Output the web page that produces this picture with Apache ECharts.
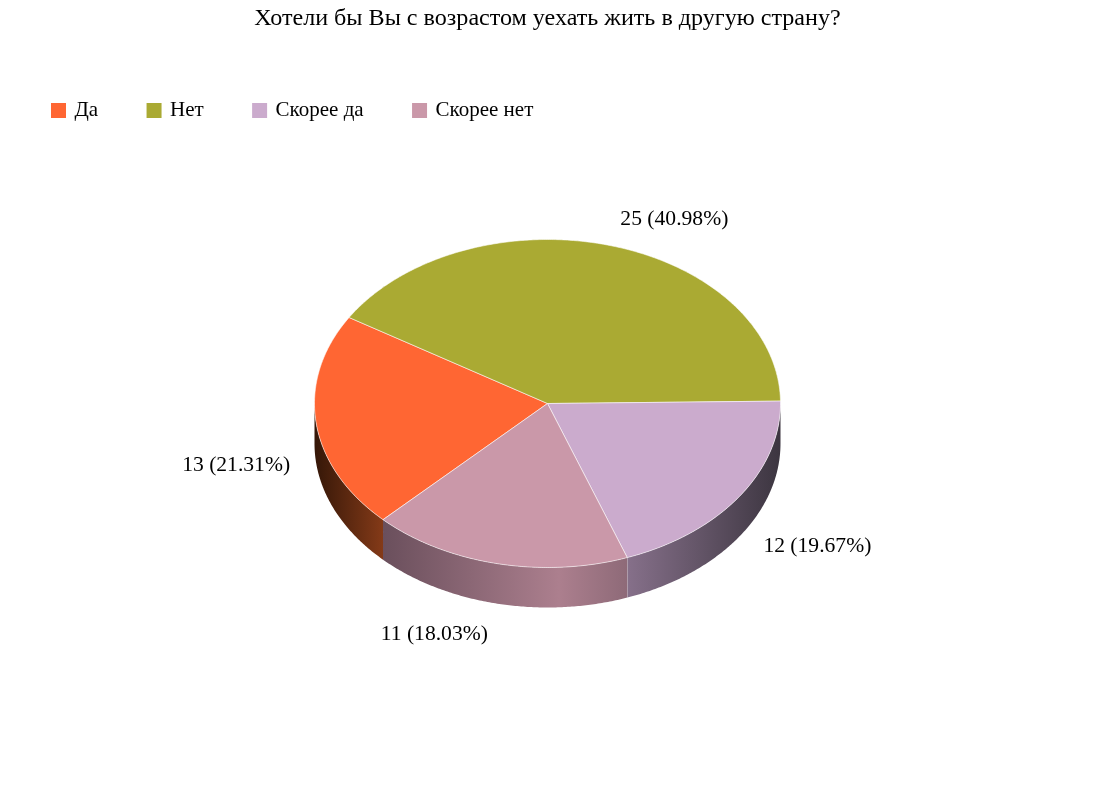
<!DOCTYPE html>
<html><head><meta charset="utf-8">
<style>html,body{margin:0;padding:0;background:#fff}#c{width:1095px;height:805px}</style>
<script src="https://cdn.jsdelivr.net/npm/echarts@6/dist/echarts.min.js"></script>
</head><body><div id="c"></div>
<script>
const titleText = 'Хотели бы Вы с возрастом уехать жить в другую страну?';
const categories = ['Да', 'Нет', 'Скорее да', 'Скорее нет'];
const counts = [13, 25, 12, 11];

const topColors = ['#FF6633', '#AAAA33', '#CBABCD', '#CA98A9'];
const wallStops = [
  [[0, '#351708'], [1, '#843A18']],
  [[0, '#6A6A20'], [1, '#6A6A20']],
  [[0, '#86708A'], [0.45, '#655669'], [1, '#3C3540']],
  [[0, '#6A4F5C'], [0.72, '#AC7F8E'], [1, '#8E6A78']]
];
const labelOffsets = [[-80, 43], [65, -26], [78, 50], [-63, 71]];
const pie = { cx: 547.5, cy: 403.5, rx: 233, ry: 164, depth: 40, firstAngle: 134.9 };

const total = counts.reduce((a, b) => a + b, 0);
const slices = [];
let cursor = pie.firstAngle;
counts.forEach(function (v) {
  const sweep = v / total * 360;
  slices.push({ start: cursor, end: cursor + sweep });
  cursor += sweep;
});

function rimPoint(deg, dy) {
  const t = deg * Math.PI / 180;
  return [pie.cx + pie.rx * Math.cos(t), pie.cy + pie.ry * Math.sin(t) + (dy || 0)];
}
function arcPoints(a, b, dy) {
  const out = [];
  const n = Math.max(2, Math.ceil(Math.abs(b - a) * 2));
  for (let i = 0; i <= n; i++) out.push(rimPoint(a + (b - a) * i / n, dy));
  return out;
}
// Parts of an angular range facing the viewer (sin >= 0)
function frontRanges(a, b) {
  const res = [];
  for (let k = -1; k <= 1; k++) {
    const lo = Math.max(a, k * 360), hi = Math.min(b, k * 360 + 180);
    if (hi > lo) res.push([lo, hi]);
  }
  return res;
}

function makeRender(idx) {
  return function () {
    const s = slices[idx];
    const children = [];
    frontRanges(s.start, s.end).forEach(function (r) {
      const pts = arcPoints(r[0], r[1], 0).concat(arcPoints(r[1], r[0], pie.depth));
      children.push({
        type: 'polygon', shape: { points: pts },
        style: {
          fill: { type: 'linear', x: 0, y: 0, x2: 1, y2: 0,
            colorStops: wallStops[idx].map(c => ({ offset: c[0], color: c[1] })) },
          stroke: null
        }
      });
      // light seam at the wall's leading edge
      if (idx === 2) {
        const p = rimPoint(r[1], 0);
        children.push({ type: 'line', shape: { x1: p[0], y1: p[1], x2: p[0], y2: p[1] + pie.depth },
          style: { stroke: 'rgba(255,255,255,0.3)', lineWidth: 1 } });
      }
    });
    const top = [[pie.cx, pie.cy]].concat(arcPoints(s.start, s.end, 0));
    children.push({
      type: 'polygon', shape: { points: top },
      style: { fill: topColors[idx], stroke: 'rgba(255,255,255,0.55)', lineWidth: 1, lineJoin: 'round' }
    });
    const mid = rimPoint((s.start + s.end) / 2, 0);
    children.push({
      type: 'text', z2: 10,
      style: {
        x: mid[0] + labelOffsets[idx][0], y: mid[1] + labelOffsets[idx][1],
        text: counts[idx] + ' (' + (counts[idx] / total * 100).toFixed(2) + '%)',
        font: '21.6px "Liberation Serif", "Times New Roman", serif', fill: '#000',
        align: 'center', verticalAlign: 'middle'
      }
    });
    return { type: 'group', children: children };
  };
}

const chart = echarts.init(document.getElementById('c'));
chart.setOption({
  backgroundColor: '#fff',
  animation: false,
  title: {
    text: titleText, left: 'center', top: 2,
    textStyle: { fontFamily: '"Liberation Serif", serif', fontSize: 24.1, fontWeight: 'normal', color: '#000' }
  },
  legend: {
    left: 41, top: 90, padding: 10, itemGap: 48.4, itemWidth: 15, itemHeight: 15, selectedMode: false,
    icon: 'rect', data: categories,
    textStyle: { fontFamily: '"Liberation Serif", serif', fontSize: 21, color: '#000', padding: [0, 0, 0, 3.5] }
  },
  series: categories.map(function (name, i) {
    return {
      type: 'custom', name: name, coordinateSystem: 'none',
      itemStyle: { color: topColors[i] },
      renderItem: makeRender(i), data: [counts[i]], silent: true
    };
  })
});
</script></body></html>
